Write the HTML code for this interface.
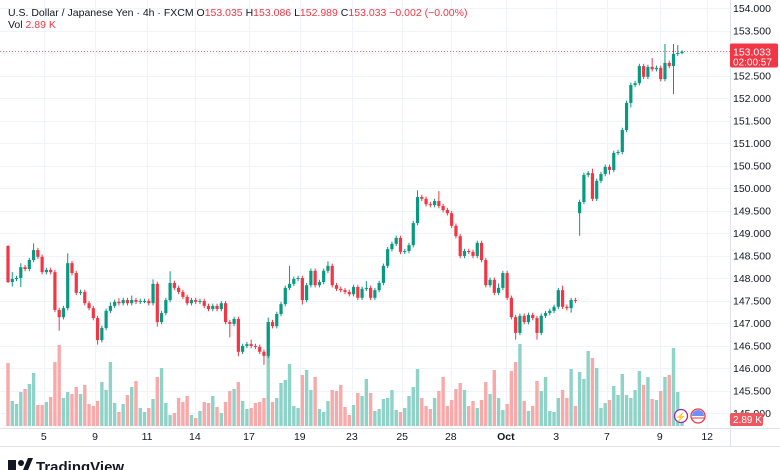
<!DOCTYPE html>
<html><head><meta charset="utf-8"><style>
html,body{margin:0;padding:0;background:#fff;}
svg{display:block;font-family:"Liberation Sans",sans-serif;}
</style></head><body>
<svg id="c" width="780" height="470" viewBox="0 0 780 470">
<rect x="0" y="0" width="780" height="470" fill="#fff"/>
<g id="grid"></g>
<g id="vol"></g>
<g id="candles"></g>
<g id="yaxis"></g>
<g id="xaxis"></g>
<line x1="0" y1="446.5" x2="780" y2="446.5" stroke="#e0e3eb"/>
<text x="8" y="16" font-size="10.5" fill="#131722">U.S. Dollar / Japanese Yen · 4h · FXCM <tspan fill="#131722">O</tspan><tspan fill="#f23645">153.035</tspan> <tspan fill="#131722">H</tspan><tspan fill="#f23645">153.086</tspan> <tspan fill="#131722">L</tspan><tspan fill="#f23645">152.989</tspan> <tspan fill="#131722">C</tspan><tspan fill="#f23645">153.033 −0.002 (−0.00%)</tspan></text>
<text x="8" y="28" font-size="10.5" fill="#131722">Vol <tspan fill="#f23645">2.89 K</tspan></text>
<g>
<rect x="8" y="460" width="8" height="10" fill="#131722"/>
<circle cx="21" cy="463" r="3" fill="#131722"/>
<path d="M23 470 L28 458 L33 458 L28 470 Z" fill="#131722"/>
<text x="36" y="472" font-size="15" font-weight="bold" fill="#131722">TradingView</text>
</g>
<g>
<circle cx="681" cy="416" r="6.5" fill="#fff" stroke="#9c27b0" stroke-width="1.3"/>
<text x="681" y="420" font-size="9" fill="#9c27b0" text-anchor="middle">⚡</text>
<circle cx="698" cy="416" r="7" fill="#fff" stroke="#f23645" stroke-width="1.3"/>
<path d="M692 416 A6 6 0 0 1 704 416 Z" fill="#2962ff" opacity="0.7"/>
<line x1="692" y1="418" x2="704" y2="418" stroke="#f23645"/>
</g>
</svg>
<script>
const opens=[148.71,147.91,147.98,148.00,148.24,148.20,148.40,148.62,148.47,148.13,
148.18,148.13,147.29,147.13,147.33,148.33,148.11,147.67,147.69,147.44,
147.33,147.11,146.62,146.89,147.27,147.38,147.47,147.44,147.51,147.44,
147.51,147.47,147.49,147.49,147.44,147.87,147.02,147.22,147.51,147.89,
147.78,147.69,147.58,147.44,147.51,147.47,147.49,147.38,147.31,147.38,
147.31,147.44,147.02,146.98,147.09,146.36,146.49,146.53,146.49,146.47,
146.36,146.27,147.02,146.93,147.20,147.42,147.78,147.87,147.98,148.00,
147.51,147.84,148.16,147.84,147.91,148.16,148.27,147.84,147.76,147.73,
147.69,147.64,147.80,147.56,147.76,147.78,147.56,147.73,147.89,148.27,
148.64,148.76,148.89,148.58,148.60,148.73,149.22,149.80,149.76,149.64,
149.62,149.71,149.60,149.51,149.44,149.16,148.93,148.49,148.60,148.58,
148.49,148.78,148.40,147.84,147.96,147.67,147.78,148.11,147.56,147.13,
146.78,147.16,147.02,147.18,147.11,146.78,147.16,147.22,147.27,147.36,
147.73,147.36,147.33,147.51,149.44,149.69,150.29,150.33,149.76,150.16,
150.31,150.47,150.40,150.78,150.80,151.29,151.89,152.29,152.33,152.71,
152.47,152.69,152.64,152.67,152.42,152.78,152.71,152.98,153.00];
const closes=[147.91,147.98,148.00,148.24,148.20,148.40,148.62,148.47,148.13,148.18,
148.13,147.29,147.13,147.33,148.33,148.11,147.67,147.69,147.44,147.33,
147.11,146.62,146.89,147.27,147.38,147.47,147.44,147.51,147.44,147.51,
147.47,147.49,147.49,147.44,147.87,147.02,147.22,147.51,147.89,147.78,
147.69,147.58,147.44,147.51,147.47,147.49,147.38,147.31,147.38,147.31,
147.44,147.02,146.98,147.09,146.36,146.49,146.53,146.49,146.47,146.36,
146.27,147.02,146.93,147.20,147.42,147.78,147.87,147.98,148.00,147.51,
147.84,148.16,147.84,147.91,148.16,148.27,147.84,147.76,147.73,147.69,
147.64,147.80,147.56,147.76,147.78,147.56,147.73,147.89,148.27,148.64,
148.76,148.89,148.58,148.60,148.73,149.22,149.80,149.76,149.64,149.62,
149.71,149.60,149.51,149.44,149.16,148.93,148.49,148.60,148.58,148.49,
148.78,148.40,147.84,147.96,147.67,147.78,148.11,147.56,147.13,146.78,
147.16,147.02,147.18,147.11,146.78,147.16,147.22,147.27,147.36,147.73,
147.36,147.33,147.51,147.49,149.69,150.29,150.33,149.76,150.16,150.31,
150.47,150.40,150.78,150.80,151.29,151.89,152.29,152.33,152.71,152.47,
152.69,152.64,152.67,152.42,152.78,152.71,152.98,153.00,153.03];
const upperWick=[0.02,0.15,0.05,0.09,0.05,0.05,0.15,0.05,0.05,0.05,
0.05,0.05,0.05,0.05,0.22,0.05,0.05,0.05,0.05,0.05,
0.05,0.05,0.05,0.05,0.08,0.05,0.08,0.05,0.05,0.1,
0.05,0.05,0.05,0.05,0.1,0.05,0.05,0.05,0.26,0.05,
0.05,0.05,0.05,0.05,0.05,0.05,0.05,0.05,0.05,0.05,
0.05,0.05,0.05,0.05,0.05,0.05,0.05,0.1,0.05,0.05,
0.05,0.1,0.05,0.05,0.05,0.05,0.4,0.05,0.05,0.05,
0.05,0.05,0.05,0.05,0.05,0.1,0.05,0.05,0.05,0.05,
0.05,0.05,0.05,0.05,0.15,0.05,0.05,0.05,0.05,0.05,
0.05,0.05,0.05,0.05,0.05,0.05,0.15,0.05,0.05,0.05,
0.05,0.22,0.05,0.05,0.05,0.05,0.05,0.05,0.05,0.05,
0.05,0.05,0.05,0.05,0.05,0.1,0.05,0.05,0.05,0.05,
0.05,0.05,0.05,0.05,0.05,0.05,0.05,0.05,0.05,0.05,
0.1,0.05,0.05,0.05,0.05,0.05,0.05,0.1,0.05,0.05,
0.05,0.05,0.05,0.05,0.05,0.05,0.05,0.05,0.05,0.05,
0.05,0.2,0.05,0.05,0.42,0.05,0.22,0.18,0.03];
const lowerWick=[0.02,0.1,0.05,0.2,0.05,0.05,0.05,0.05,0.05,0.05,
0.05,0.05,0.3,0.05,0.05,0.05,0.05,0.05,0.05,0.05,
0.05,0.1,0.05,0.05,0.05,0.05,0.05,0.05,0.05,0.05,
0.05,0.05,0.05,0.05,0.05,0.1,0.05,0.05,0.05,0.05,
0.05,0.05,0.05,0.05,0.05,0.05,0.05,0.05,0.05,0.05,
0.05,0.05,0.3,0.05,0.1,0.05,0.05,0.05,0.05,0.05,
0.2,0.05,0.05,0.05,0.05,0.05,0.05,0.05,0.05,0.1,
0.05,0.05,0.05,0.05,0.05,0.05,0.05,0.05,0.05,0.05,
0.05,0.05,0.05,0.05,0.05,0.05,0.05,0.05,0.05,0.05,
0.05,0.05,0.05,0.05,0.05,0.05,0.05,0.05,0.05,0.05,
0.05,0.05,0.05,0.05,0.05,0.05,0.05,0.05,0.05,0.05,
0.05,0.05,0.05,0.05,0.05,0.05,0.05,0.05,0.05,0.15,
0.05,0.05,0.05,0.05,0.15,0.05,0.05,0.05,0.05,0.05,
0.05,0.05,0.1,0.05,0.5,0.05,0.05,0.05,0.05,0.05,
0.05,0.1,0.05,0.05,0.05,0.05,0.1,0.05,0.05,0.05,
0.05,0.05,0.05,0.05,0.05,0.05,0.62,0.05,0.03];
const volumes=[6.3,2.5,2.2,3.4,3.7,4.2,5.3,2.1,2.1,2.4,
2.9,6.4,8.1,2.8,3.4,3.2,3.9,3.2,4.1,2.2,
2.0,2.5,4.4,3.6,6.4,2.3,1.4,2.2,3.1,3.9,
4.5,1.8,1.4,1.8,2.7,4.9,5.8,2.3,1.1,1.3,
2.8,2.4,3.0,1.1,0.8,1.5,2.4,2.3,3.0,1.9,
1.3,2.4,3.5,3.7,4.4,2.5,1.7,1.8,2.3,2.4,
2.8,10.4,2.4,2.8,4.3,4.6,6.2,2.0,1.8,5.1,
5.6,3.6,4.9,1.7,1.4,2.5,3.6,3.5,4.1,1.9,
1.1,2.1,3.3,3.0,4.7,3.3,1.5,1.7,2.7,2.8,
3.6,1.6,1.4,1.8,3.0,3.9,5.7,2.8,2.0,1.7,
2.8,3.5,4.9,2.0,2.6,3.7,4.3,3.6,2.0,2.5,
1.8,2.6,4.4,3.2,5.6,2.8,1.6,2.2,5.5,6.4,
8.2,2.5,1.5,2.0,4.5,3.5,4.9,1.5,1.4,2.8,
3.6,2.8,5.7,2.0,5.4,4.7,7.5,6.8,5.8,1.8,
2.3,2.6,4.0,3.1,5.2,3.1,2.8,3.6,5.5,4.1,
4.9,2.7,2.6,3.5,4.9,5.1,7.8,3.4,1.0];
const priceTicks=[145.0,145.5,146.0,146.5,147.0,147.5,148.0,148.5,149.0,149.5,150.0,150.5,151.0,151.5,152.0,152.5,153.0,153.5,154.0];
const dateLabels=["5","9","11","14","17","19","23","25","28","Oct","3","7","9","12"];
const dateIdx=[8.4,20.4,32.6,43.8,56.5,68.4,80.6,92.4,103.8,116.7,128.5,140.4,152.8,163.9];
const lastPrice=153.033;
const lastVolLabel="2.89 K";

const NS="http://www.w3.org/2000/svg";
const PLOT_R=730, VOL_BASE=426;
function x(i){return 8+i*4.266;}
function y(p){return 233-(p-149)*45;}
function vh(v){return v*10;}
function mk(tag,attrs,parent){const e=document.createElementNS(NS,tag);for(const k in attrs)e.setAttribute(k,attrs[k]);parent.appendChild(e);return e;}
const G=document.getElementById('grid'),V=document.getElementById('vol'),C=document.getElementById('candles'),YA=document.getElementById('yaxis'),XA=document.getElementById('xaxis');

priceTicks.forEach(p=>{
  const yy=Math.round(y(p))+0.5;
  const l=mk('line',{x1:0,y1:yy,x2:PLOT_R,y2:yy,stroke:'#f0f3fa'},G);
  
  
  if(Math.abs(p-lastPrice)>0.2){
    const t=mk('text',{x:733,y:y(p)+4,'font-size':10.5,fill:'#131722'},YA);
    t.textContent=p.toFixed(3);
    
    
  }
});
dateIdx.forEach((d,k)=>{
  const xx=Math.round(x(d))+0.5;
  const l=mk('line',{x1:xx,y1:0,x2:xx,y2:428,stroke:'#f0f3fa'},G);
  
  
  const t=mk('text',{x:x(d),y:440,'font-size':10.5,fill:'#131722','text-anchor':'middle','font-weight':dateLabels[k]==='Oct'?'bold':'normal'},XA);
  t.textContent=dateLabels[k];
  
  
});
mk('line',{x1:PLOT_R+0.5,y1:0,x2:PLOT_R+0.5,y2:447,stroke:'#e0e3eb'},G);
mk('line',{x1:0,y1:428.5,x2:780,y2:428.5,stroke:'#e0e3eb'},G);

volumes.forEach((v,i)=>{
  const up=closes[i]>=opens[i];
  const r=mk('rect',{x:x(i)-1.7,y:VOL_BASE-vh(v),width:3.4,height:vh(v),fill:up?'#8fd3c8':'#f8a9a9'},V);
  
  
});

const lp=mk('line',{x1:0,y1:y(lastPrice),x2:PLOT_R,y2:y(lastPrice),stroke:'#f23645','stroke-dasharray':'1 2','stroke-width':0.8},C);



closes.forEach((c,i)=>{
  const o=opens[i],up=c>=o,col=up?'#089981':'#f23645';
  const hi=Math.max(o,c)+upperWick[i],lo=Math.min(o,c)-lowerWick[i];
  const g=mk('g',{},C);
  
  
  mk('line',{x1:x(i),y1:y(hi),x2:x(i),y2:y(lo),stroke:col,'stroke-width':1},g);
  const top=y(Math.max(o,c)),h=Math.max(1,Math.abs(y(o)-y(c)));
  mk('rect',{x:x(i)-1.6,y:top,width:3.2,height:h,fill:col},g);
});

const lb=mk('g',{},YA);


mk('rect',{x:730,y:y(lastPrice)-8,width:48,height:24,rx:2,fill:'#f23645'},lb);
const t1=mk('text',{x:733,y:y(lastPrice)+4,'font-size':10.5,fill:'#fff'},lb);t1.textContent=lastPrice.toFixed(3);
const t2=mk('text',{x:733,y:y(lastPrice)+14,'font-size':10,fill:'#fff'},lb);t2.textContent="02:00:57";
const vb=mk('g',{},YA);


mk('rect',{x:730,y:413,width:33,height:13,rx:2,fill:'#f0565f'},vb);
const t3=mk('text',{x:733,y:423,'font-size':10,fill:'#fff'},vb);t3.textContent=lastVolLabel;
</script>
</body></html>
